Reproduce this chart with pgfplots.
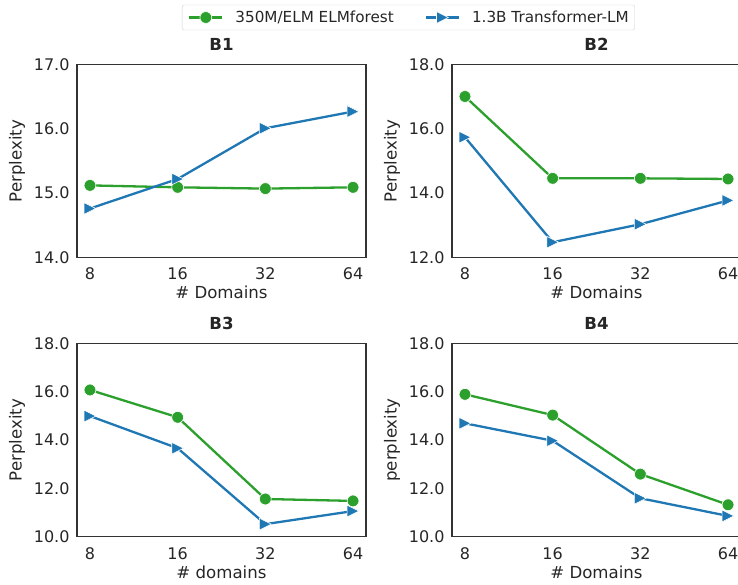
\documentclass[border=0pt]{standalone}
\usepackage{fontspec}
\setmainfont{DejaVu Sans}
\usepackage{pgfplots}
\pgfplotsset{compat=1.18}
\definecolor{cgreen}{HTML}{2CA02C}
\definecolor{cblue}{HTML}{1F77B4}
\definecolor{ctext}{HTML}{262626}
\definecolor{cspine}{HTML}{333333}
\newcommand\fs{\fontsize{15.2}{18}\selectfont}
\newcommand\fl{\fontsize{16.6}{20}\selectfont}
\newcommand\ft{\fontsize{16}{19}\selectfont}
\pgfdeclareplotmark{rtri}{%
  \pgfpathmoveto{\pgfqpoint{\pgfplotmarksize}{0pt}}%
  \pgfpathlineto{\pgfqpoint{-\pgfplotmarksize}{\pgfplotmarksize}}%
  \pgfpathlineto{\pgfqpoint{-\pgfplotmarksize}{-\pgfplotmarksize}}%
  \pgfpathclose\pgfusepathqfillstroke}
\pgfplotsset{
  panel/.style={
    scale only axis, width=289pt, height=192.6pt, anchor=south west,
    xmin=-0.148, xmax=3.148, xtick={0,1,2,3}, xticklabels={8,16,32,64},
    major tick length=0pt, tick style={draw=none},
    axis line style={cspine, line width=1.3pt},
    font=\fs, tick label style={font=\ft, text=ctext},
    /pgf/number format/assume math mode=true,
    yticklabel style={/pgf/number format/.cd, fixed, fixed zerofill, precision=1, /tikz/.cd, xshift=-4pt},
    xticklabel style={anchor=base, yshift=-22.5pt},
    title style={at={(axis description cs:0.5,1)}, anchor=base, yshift=7.7pt, font=\fl\bfseries, text=ctext},
    xlabel style={at={(axis description cs:0.5,0)}, anchor=base, yshift=-41.5pt, font=\fl, text=ctext},
    ylabel style={at={(axis description cs:-0.192,0.5)}, anchor=base, font=\fl, text=ctext},
    legend image code/.code={\draw[mark repeat=2,mark phase=2] plot coordinates {(0pt,0pt) (16.5pt,0pt) (33pt,0pt)};},
  },
  gline/.style={cgreen, line width=2.3pt, mark=*, mark size=5.9pt, mark options={fill=cgreen, draw=white, line width=0.6pt}},
  bline/.style={cblue, line width=2.3pt, mark=rtri, mark size=5.9pt, mark options={fill=cblue, draw=white, line width=0.6pt}},
}
\begin{document}
\begin{tikzpicture}[x=1pt,y=1pt]
% B1
\begin{axis}[panel, at={(77pt,326.7pt)}, title={B1}, xlabel={\# Domains}, ylabel={Perplexity},
  ymin=14, ymax=17, ytick={14,15,16,17},
  legend columns=2, legend cell align=left,
  legend style={at={(axis description cs:1.147,1.245)}, anchor=center, draw=black!18, rounded corners=2pt,
    fill=white, font=\fs, text=ctext, inner xsep=6pt, inner ysep=6pt, nodes={inner sep=0pt},
    /tikz/every odd column/.append style={column sep=12pt},
    /tikz/every even column/.append style={column sep=31pt}}]
\addplot[gline] coordinates {(0,15.12) (1,15.09) (2,15.07) (3,15.09)};
\addlegendentry{350M/ELM ELMforest}
\addplot[bline] coordinates {(0,14.76) (1,15.22) (2,16.01) (3,16.27)};
\addlegendentry{1.3B Transformer-LM}
\end{axis}
% B2
\begin{axis}[panel, at={(452pt,326.7pt)}, title={B2}, xlabel={\# Domains}, ylabel={Perplexity},
  ymin=12, ymax=18, ytick={12,14,16,18}]
\addplot[gline] coordinates {(0,17.01) (1,14.46) (2,14.46) (3,14.44)};
\addplot[bline] coordinates {(0,15.74) (1,12.47) (2,13.03) (3,13.77)};
\end{axis}
% B3
\begin{axis}[panel, at={(77pt,47.3pt)}, height=193.4pt, title={B3}, xlabel={\# domains}, ylabel={Perplexity},
  ymin=10, ymax=18, ytick={10,12,14,16,18}]
\addplot[gline] coordinates {(0,16.07) (1,14.94) (2,11.56) (3,11.48)};
\addplot[bline] coordinates {(0,14.99) (1,13.66) (2,10.52) (3,11.06)};
\end{axis}
% B4
\begin{axis}[panel, at={(452pt,47.3pt)}, height=193.4pt, title={B4}, xlabel={\# Domains}, ylabel={perplexity},
  ymin=10, ymax=18, ytick={10,12,14,16,18}]
\addplot[gline] coordinates {(0,15.89) (1,15.03) (2,12.59) (3,11.32)};
\addplot[bline] coordinates {(0,14.69) (1,13.97) (2,11.59) (3,10.86)};
\end{axis}
\pgfresetboundingbox
\useasboundingbox (0pt,0pt) rectangle (738pt,584pt);
\end{tikzpicture}
\end{document}
